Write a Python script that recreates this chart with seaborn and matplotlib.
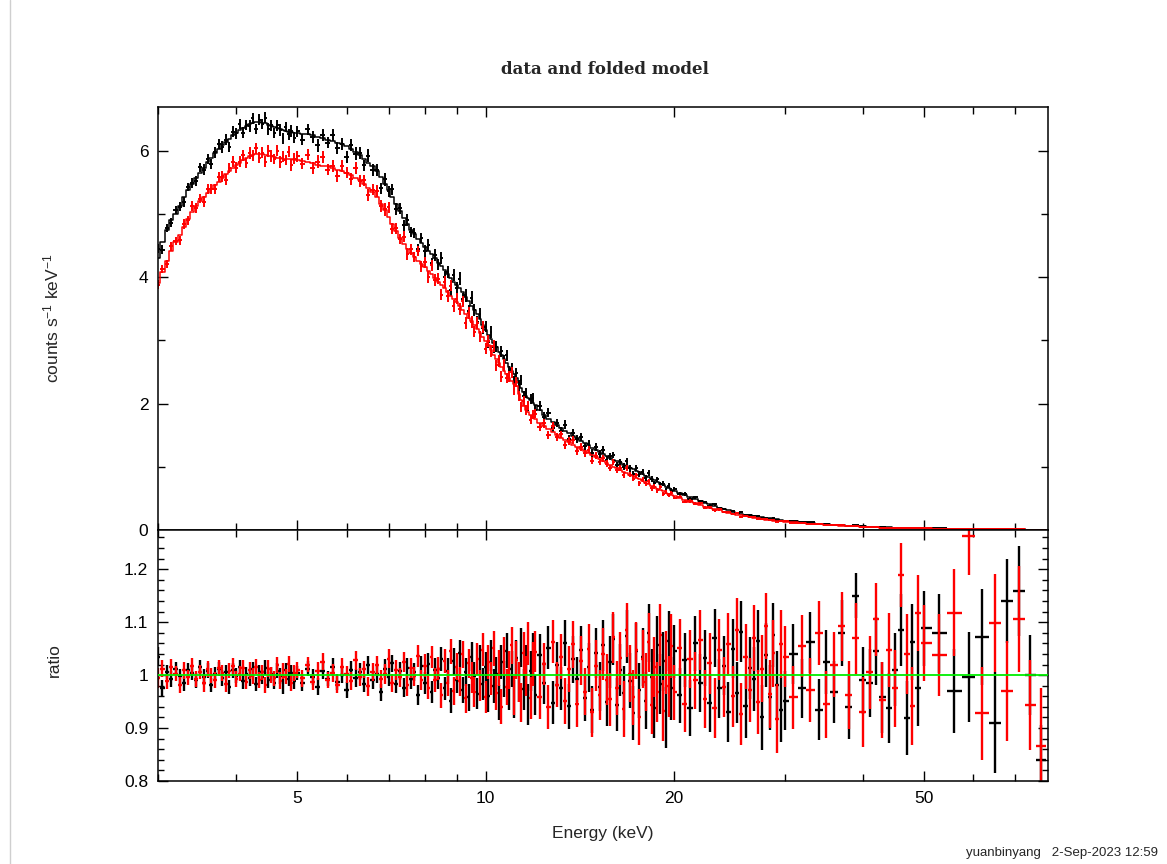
import numpy as np
import matplotlib
matplotlib.use("Agg")
import matplotlib.pyplot as plt
import seaborn as sns
from matplotlib.ticker import FixedLocator, NullFormatter, FixedFormatter, MultipleLocator
from matplotlib.lines import Line2D

# ---------------- data ----------------
energy = [
    3.00, 3.05, 3.10, 3.15, 3.20, 3.25, 3.30, 3.35, 3.40, 3.45,
    3.50, 3.55, 3.60, 3.65, 3.70, 3.75, 3.80, 3.85, 3.90, 3.95,
    4.00, 4.05, 4.10, 4.15, 4.20, 4.25, 4.30, 4.35, 4.40, 4.45,
    4.50, 4.55, 4.60, 4.65, 4.70, 4.75, 4.80, 4.85, 4.90, 4.95,
    5.0, 5.1, 5.2, 5.3, 5.4, 5.5, 5.6, 5.7, 5.8, 5.9,
    6.0, 6.1, 6.2, 6.3, 6.4, 6.5, 6.6, 6.7, 6.8, 6.9,
    7.0, 7.1, 7.2, 7.3, 7.4, 7.5, 7.6, 7.7, 7.8, 7.9,
    8.0, 8.1, 8.2, 8.3, 8.4, 8.5, 8.6, 8.7, 8.8, 8.9,
    9.0, 9.1, 9.2, 9.3, 9.4, 9.5, 9.6, 9.7, 9.8, 9.9,
    10.0, 10.1, 10.2, 10.3, 10.4, 10.5, 10.6, 10.7, 10.8, 10.9,
    11.0, 11.1, 11.2, 11.3, 11.4, 11.5, 11.6, 11.7, 11.8, 11.9,
    12.0, 12.2, 12.4, 12.6, 12.8, 13.0, 13.2, 13.4, 13.6, 13.8,
    14.0, 14.2, 14.4, 14.6, 14.8, 15.0, 15.2, 15.4, 15.6, 15.8,
    16.0, 16.2, 16.4, 16.6, 16.8, 17.0, 17.2, 17.4, 17.6, 17.8,
    18.0, 18.2, 18.4, 18.6, 18.8, 19.0, 19.2, 19.4, 19.6, 19.8,
    20.0, 20.4, 20.8, 21.2, 21.6, 22.0, 22.4, 22.8, 23.2, 23.6,
    24.0, 24.4, 24.8, 25.2, 25.6, 26.0, 26.4, 26.8, 27.2, 27.6,
    28.0, 28.4, 28.8, 29.2, 29.6,
    30, 31, 32, 33, 34, 35, 36, 37, 38, 39,
    40, 41, 42, 43, 44, 45, 46, 47, 48, 49,
    50, 53, 56, 59, 62, 65, 68, 71, 74, 77,
]

# folded model, counts s^-1 keV^-1
model_black = [
    4.30, 4.55, 4.75, 4.90, 5.00, 5.12, 5.26, 5.37, 5.47, 5.57,
    5.65, 5.72, 5.82, 5.89, 5.96, 6.03, 6.09, 6.14, 6.19, 6.24,
    6.28, 6.32, 6.36, 6.39, 6.42, 6.44, 6.45, 6.45, 6.44, 6.43,
    6.41, 6.39, 6.37, 6.35, 6.34, 6.33, 6.31, 6.30, 6.29, 6.28,
    6.28, 6.27, 6.26, 6.24, 6.22, 6.20, 6.17, 6.15, 6.12, 6.10,
    6.07, 6.03, 5.98, 5.93, 5.87, 5.81, 5.75, 5.68, 5.58, 5.48,
    5.37, 5.27, 5.16, 5.05, 4.94, 4.84, 4.75, 4.68, 4.61, 4.54,
    4.48, 4.42, 4.36, 4.30, 4.23, 4.17, 4.11, 4.05, 3.99, 3.93,
    3.87, 3.82, 3.76, 3.69, 3.62, 3.55, 3.48, 3.41, 3.33, 3.25,
    3.17, 3.09, 3.02, 2.95, 2.89, 2.82, 2.76, 2.70, 2.64, 2.58,
    2.52, 2.46, 2.40, 2.32, 2.25, 2.18, 2.12, 2.08, 2.05, 2.01,
    1.97, 1.89, 1.82, 1.76, 1.71, 1.66, 1.61, 1.57, 1.53, 1.49,
    1.45, 1.41, 1.38, 1.34, 1.30, 1.26, 1.23, 1.20, 1.17, 1.14,
    1.11, 1.085, 1.06, 1.035, 1.01, 0.985, 0.96, 0.935, 0.91, 0.885,
    0.86, 0.835, 0.81, 0.785, 0.76, 0.735, 0.71, 0.685, 0.66, 0.64,
    0.62, 0.585, 0.55, 0.52, 0.49, 0.46, 0.43, 0.405, 0.38, 0.355,
    0.33, 0.31, 0.29, 0.275, 0.26, 0.245, 0.23, 0.22, 0.21, 0.20,
    0.19, 0.182, 0.175, 0.167, 0.16,
    0.150, 0.137, 0.124, 0.112, 0.102, 0.093, 0.084, 0.077, 0.070, 0.063,
    0.058, 0.053, 0.048, 0.044, 0.040, 0.037, 0.034, 0.032, 0.030, 0.028,
    0.027, 0.023, 0.019, 0.016, 0.014, 0.012, 0.010, 0.008, 0.007, 0.006,
]

model_red = [
    3.90, 4.08, 4.26, 4.42, 4.56, 4.67, 4.80, 4.92, 5.03, 5.13,
    5.21, 5.27, 5.33, 5.39, 5.45, 5.51, 5.57, 5.63, 5.68, 5.73,
    5.77, 5.81, 5.85, 5.88, 5.91, 5.93, 5.94, 5.94, 5.94, 5.93,
    5.92, 5.91, 5.90, 5.89, 5.88, 5.87, 5.87, 5.86, 5.86, 5.85,
    5.85, 5.83, 5.82, 5.80, 5.78, 5.76, 5.75, 5.73, 5.70, 5.67,
    5.64, 5.61, 5.57, 5.53, 5.47, 5.41, 5.35, 5.26, 5.16, 5.06,
    4.95, 4.84, 4.73, 4.62, 4.53, 4.45, 4.38, 4.32, 4.26, 4.21,
    4.16, 4.10, 4.05, 3.99, 3.93, 3.87, 3.82, 3.76, 3.70, 3.65,
    3.60, 3.54, 3.48, 3.42, 3.36, 3.30, 3.24, 3.18, 3.12, 3.06,
    2.99, 2.92, 2.85, 2.77, 2.70, 2.64, 2.58, 2.52, 2.46, 2.41,
    2.36, 2.31, 2.27, 2.15, 2.05, 1.96, 1.90, 1.86, 1.82, 1.79,
    1.76, 1.70, 1.65, 1.60, 1.55, 1.50, 1.46, 1.42, 1.39, 1.35,
    1.32, 1.28, 1.25, 1.21, 1.18, 1.15, 1.12, 1.09, 1.06, 1.03,
    1.00, 0.975, 0.95, 0.925, 0.90, 0.875, 0.85, 0.825, 0.80, 0.775,
    0.75, 0.725, 0.70, 0.675, 0.65, 0.63, 0.61, 0.59, 0.57, 0.55,
    0.53, 0.50, 0.47, 0.445, 0.42, 0.395, 0.37, 0.35, 0.33, 0.31,
    0.29, 0.275, 0.26, 0.245, 0.23, 0.217, 0.205, 0.195, 0.185, 0.175,
    0.165, 0.157, 0.150, 0.145, 0.140,
    0.130, 0.119, 0.108, 0.098, 0.089, 0.081, 0.074, 0.068, 0.062, 0.056,
    0.051, 0.047, 0.043, 0.039, 0.036, 0.034, 0.031, 0.029, 0.027, 0.025,
    0.024, 0.020, 0.017, 0.015, 0.013, 0.011, 0.009, 0.008, 0.006, 0.005,
]

# data / model ratio
ratio_black = [
    1.035, 0.975, 1.006, 0.992, 1.012, 0.998, 0.985, 1.010, 1.004, 0.990,
    1.015, 0.996, 1.008, 0.982, 1.002, 1.012, 0.994, 1.005, 0.978, 1.009,
    0.999, 1.016, 0.988, 1.003, 0.995, 1.011, 0.983, 1.006, 0.997, 1.014,
    0.990, 1.002, 0.986, 1.008, 0.999, 0.979, 1.010, 0.993, 1.004, 0.988,
    1.004, 0.985, 1.012, 0.996, 0.978, 1.008, 0.993, 1.016, 0.987, 1.001,
    0.972, 1.010, 0.995, 1.006, 0.983, 1.019, 0.990, 1.003, 0.968, 1.012,
    0.997, 1.022, 0.984, 1.007, 0.976, 1.014, 0.992, 1.005, 0.963, 1.018,
    0.985, 1.021, 0.968, 1.010, 0.994, 1.030, 0.975, 1.008, 0.952, 1.026,
    0.990, 1.041, 0.972, 1.006, 0.958, 1.035, 0.998, 0.965, 1.028, 0.983,
    1.015, 0.961, 1.037, 0.979, 1.003, 0.949, 1.024, 0.992, 1.046, 0.969,
    1.011, 0.955, 1.032, 0.987, 1.052, 0.973, 1.019, 0.944, 1.008, 1.039,
    0.962, 1.038, 0.985, 1.052, 0.948, 1.020, 0.975, 1.061, 0.941, 1.030,
    0.992, 1.048, 0.957, 1.015, 0.935, 1.042, 0.978, 1.056, 0.950, 1.025,
    1.068, 0.944, 1.010, 0.966, 1.073, 0.989, 0.929, 1.045, 0.971, 1.034,
    0.952, 1.079, 0.996, 0.938, 1.057, 0.983, 1.026, 0.920, 1.064, 0.975,
    1.045, 0.962, 1.028, 0.938, 1.060, 0.985, 1.032, 0.948, 1.070, 0.975,
    1.018, 0.930, 1.050, 0.967, 1.082, 0.941, 1.013, 0.993, 1.064, 0.920,
    1.038, 0.958, 1.076, 0.982, 0.935,
    0.952, 1.040, 0.975, 1.062, 0.935, 1.025, 0.968, 1.080, 0.940, 1.150,
    0.990, 0.985, 1.045, 0.958, 0.938, 1.010, 1.085, 0.919, 1.062, 0.975,
    1.088, 1.079, 0.970, 0.997, 1.072, 0.910, 1.140, 1.159, 1.000, 0.840,
]

ratio_red = [
    0.995, 1.012, 0.988, 1.015, 1.003, 0.981, 1.009, 0.996, 1.018, 0.992,
    1.006, 0.985, 1.011, 1.000, 0.990, 1.014, 1.004, 0.984, 1.008, 1.017,
    0.993, 1.003, 1.013, 0.987, 1.009, 0.998, 1.016, 0.991, 1.005, 0.982,
    1.012, 1.001, 0.994, 1.019, 0.989, 1.007, 0.997, 1.021, 0.986, 1.004,
    1.010, 0.994, 1.020, 0.987, 1.008, 1.025, 0.991, 1.004, 0.982, 1.016,
    1.002, 0.989, 1.028, 0.997, 1.011, 0.979, 1.006, 1.019, 0.993, 1.002,
    1.031, 0.985, 1.009, 0.996, 1.024, 0.981, 1.013, 0.998, 1.036, 0.990,
    1.018, 0.976, 1.034, 0.991, 1.012, 0.962, 1.027, 0.985, 1.045, 0.970,
    1.016, 0.988, 1.039, 0.956, 1.022, 0.995, 0.968, 1.031, 0.981, 1.048,
    0.959, 1.025, 0.993, 1.051, 0.966, 1.013, 0.940, 1.036, 0.978, 1.009,
    1.056, 0.962, 1.029, 0.987, 0.948, 1.042, 0.999, 1.060, 0.957, 1.021,
    1.044, 0.958, 1.021, 0.940, 1.063, 0.982, 1.035, 0.951, 1.012, 1.058,
    0.946, 1.027, 0.969, 1.049, 0.930, 1.018, 0.962, 1.040, 0.991, 0.954,
    1.071, 0.975, 1.032, 0.936, 1.085, 1.003, 0.958, 1.047, 0.921, 1.030,
    0.987, 1.062, 0.944, 1.015, 0.968, 1.076, 0.933, 1.024, 0.979, 1.055,
    0.968, 1.052, 0.945, 1.030, 0.990, 1.066, 0.955, 1.022, 0.938, 1.048,
    0.978, 1.058, 0.960, 1.086, 0.927, 1.035, 0.972, 1.070, 0.949, 1.012,
    1.093, 0.964, 1.041, 0.918, 1.058,
    1.035, 0.958, 1.055, 0.972, 1.080, 0.945, 1.020, 1.092, 0.962, 1.070,
    0.930, 1.005, 1.105, 0.953, 1.048, 0.975, 1.189, 1.040, 0.942, 1.117,
    1.060, 1.038, 1.118, 1.262, 0.928, 1.098, 0.970, 1.106, 0.943, 0.866,
]

# 1-sigma relative errors, in thousandths
err_black = [
    18, 15, 14, 15, 13, 14, 15, 13, 14, 14,
    13, 15, 14, 13, 14, 13, 15, 14, 13, 14,
    14, 13, 14, 13, 15, 14, 13, 14, 13, 14,
    15, 14, 13, 14, 15, 14, 13, 14, 15, 14,
    14, 15, 14, 15, 16, 15, 14, 16, 15, 16,
    15, 16, 17, 16, 15, 17, 16, 17, 16, 18,
    17, 16, 18, 17, 18, 19, 18, 17, 19, 18,
    20, 21, 20, 22, 21, 23, 22, 24, 23, 25,
    24, 26, 25, 27, 26, 28, 27, 29, 28, 30,
    29, 31, 30, 32, 31, 33, 32, 34, 33, 35,
    34, 36, 35, 37, 36, 38, 37, 39, 38, 40,
    38, 40, 39, 41, 40, 42, 41, 43, 42, 44,
    43, 45, 44, 46, 45, 47, 46, 48, 47, 49,
    48, 50, 49, 51, 50, 52, 51, 53, 52, 54,
    53, 55, 54, 56, 55, 57, 56, 58, 57, 59,
    50, 52, 51, 53, 52, 54, 53, 55, 54, 56,
    55, 57, 56, 58, 57, 59, 58, 60, 59, 61,
    60, 62, 61, 63, 62,
    55, 57, 56, 58, 57, 60, 59, 62, 61, 42,
    63, 65, 64, 67, 66, 69, 68, 70, 72, 71,
    70, 75, 80, 85, 90, 95, 80, 85, 75, 65,
]

err_red = [
    19, 16, 15, 16, 14, 15, 16, 14, 15, 15,
    14, 16, 15, 14, 15, 14, 16, 15, 14, 15,
    15, 14, 15, 14, 16, 15, 14, 15, 14, 15,
    16, 15, 14, 15, 16, 15, 14, 15, 16, 15,
    15, 16, 15, 16, 17, 16, 15, 17, 16, 17,
    16, 17, 18, 17, 16, 18, 17, 18, 17, 19,
    18, 17, 19, 18, 19, 20, 19, 18, 20, 19,
    21, 22, 21, 23, 22, 24, 23, 25, 24, 26,
    25, 27, 26, 28, 27, 29, 28, 30, 29, 31,
    30, 32, 31, 33, 32, 34, 33, 35, 34, 36,
    35, 37, 36, 38, 37, 39, 38, 40, 39, 41,
    39, 41, 40, 42, 41, 43, 42, 44, 43, 45,
    44, 46, 45, 47, 46, 48, 47, 49, 48, 50,
    49, 51, 50, 52, 51, 53, 52, 54, 53, 55,
    54, 56, 55, 57, 56, 58, 57, 59, 58, 60,
    52, 54, 53, 55, 54, 56, 55, 57, 56, 58,
    57, 59, 58, 60, 59, 61, 60, 62, 61, 63,
    62, 64, 63, 65, 64,
    57, 59, 58, 61, 60, 63, 62, 65, 64, 67,
    66, 69, 68, 71, 70, 73, 60, 75, 74, 72,
    72, 78, 82, 73, 88, 92, 95, 100, 85, 110,
]

x_major_ticks = [5, 10, 20, 50]
x_major_labels = ["5", "10", "20", "50"]
x_minor_ticks = [3, 4, 6, 7, 8, 9, 30, 40, 60, 70]
top_major_ticks = [0, 2, 4, 6]
top_minor_ticks = [1, 3, 5]
ratio_major_ticks = [0.8, 0.9, 1.0, 1.1, 1.2]
ratio_major_labels = ["0.8", "0.9", "1", "1.1", "1.2"]

title_text = "data and folded model"
ylabel_top = r"counts s$^{-1}$ keV$^{-1}$"
ylabel_bottom = "ratio"
xlabel_text = "Energy (keV)"
footer_text = "yuanbinyang   2-Sep-2023 12:59"

for arr in (model_black, model_red, ratio_black, ratio_red, err_black, err_red):
    if len(arr) != len(energy):
        raise ValueError(f"length mismatch {len(arr)} vs {len(energy)}")

# ---------------- plotting ----------------
sns.set_style("ticks")
plt.rcParams['font.family'] = ['Liberation Sans', 'DejaVu Sans']
plt.rcParams['mathtext.fontset'] = 'custom'
plt.rcParams['mathtext.rm'] = 'Liberation Sans'
plt.rcParams['mathtext.it'] = 'Liberation Sans'

fig = plt.figure(figsize=(11.67, 8.64), dpi=100)
fig.patch.set_facecolor('white')
L, W = 158 / 1167, 890 / 1167
ax1 = fig.add_axes([L, 1 - 530 / 864, W, 423 / 864])
ax2 = fig.add_axes([L, 1 - 781 / 864, W, 251 / 864], sharex=ax1)

E = np.array(energy, dtype=float)
mids = 0.5 * (E[1:] + E[:-1])
left = np.r_[E[0] - (mids[0] - E[0]), mids]
right = np.r_[mids, E[-1] + (E[-1] - mids[-1])]
xerr = [E - left, right - E]

series = [
    (model_black, ratio_black, err_black, "black"),
    (model_red, ratio_red, err_red, "#ff0000"),
]
for model, ratio, err, col in series:
    m = np.array(model, dtype=float)
    r = np.array(ratio, dtype=float)
    e = np.array(err, dtype=float) / 1000.0
    ax1.errorbar(E, m * r, yerr=m * e, xerr=xerr, fmt='none', ecolor=col,
                 elinewidth=1.4, capsize=0)
    sns.lineplot(x=E, y=m, ax=ax1, color=col, drawstyle='steps-mid', lw=1.1,
                 estimator=None, errorbar=None, sort=True)
    ax2.errorbar(E, r, yerr=e, xerr=xerr, fmt='none', ecolor=col,
                 elinewidth=1.7, capsize=0)

ax2.axhline(1.0, color='#00ee00', lw=1.3, zorder=6)

ax1.set_xscale('log')
ax1.set_xlim(3.0, 79.0)
ax1.set_ylim(0, 6.69)
ax2.set_ylim(0.8, 1.274)

for ax in (ax1, ax2):
    ax.xaxis.set_major_locator(FixedLocator(x_major_ticks))
    ax.xaxis.set_minor_locator(FixedLocator(x_minor_ticks))
    ax.xaxis.set_minor_formatter(NullFormatter())
    ax.tick_params(which='both', direction='in', top=True, right=True,
                   width=1.0, colors='black', labelsize=12.5, pad=7)
    ax.tick_params(which='major', length=7)
    ax.tick_params(which='minor', length=5)
    for s in ax.spines.values():
        s.set_linewidth(1.1)
        s.set_color('black')
        s.set_visible(True)
    ax.set_ylabel("")
    ax.set_xlabel("")

ax2.xaxis.set_major_formatter(FixedFormatter(x_major_labels))
ax1.tick_params(labelbottom=False)

ax1.yaxis.set_major_locator(FixedLocator(top_major_ticks))
ax1.yaxis.set_minor_locator(FixedLocator(top_minor_ticks))
ax1.yaxis.set_major_formatter(FixedFormatter([str(t) for t in top_major_ticks]))

ax2.yaxis.set_major_locator(FixedLocator(ratio_major_ticks))
ax2.yaxis.set_major_formatter(FixedFormatter(ratio_major_labels))
ax2.yaxis.set_minor_locator(MultipleLocator(0.02))
ax2.tick_params(axis='y', which='minor', length=4)

ax1.set_ylabel(ylabel_top, fontsize=12.5)
ax1.yaxis.set_label_coords(-0.108, 0.5)
ax2.set_ylabel(ylabel_bottom, fontsize=12.5)
ax2.yaxis.set_label_coords(-0.108, 0.48)
ax2.set_xlabel(xlabel_text, fontsize=12.5)
ax2.xaxis.set_label_coords(0.5, -0.18)

fig.text(605 / 1167, 1 - 70 / 864, title_text, ha='center', va='center',
         fontsize=12, fontweight='bold', family=['DejaVu Serif'])
fig.text(1158 / 1167, 1 - 853 / 864, footer_text, ha='right', va='center',
         fontsize=9.5)
fig.add_artist(Line2D([10 / 1167, 10 / 1167], [0, 1], color='#cfcfcf', lw=1.0))

fig.savefig("out.png", dpi=100, facecolor='white')
